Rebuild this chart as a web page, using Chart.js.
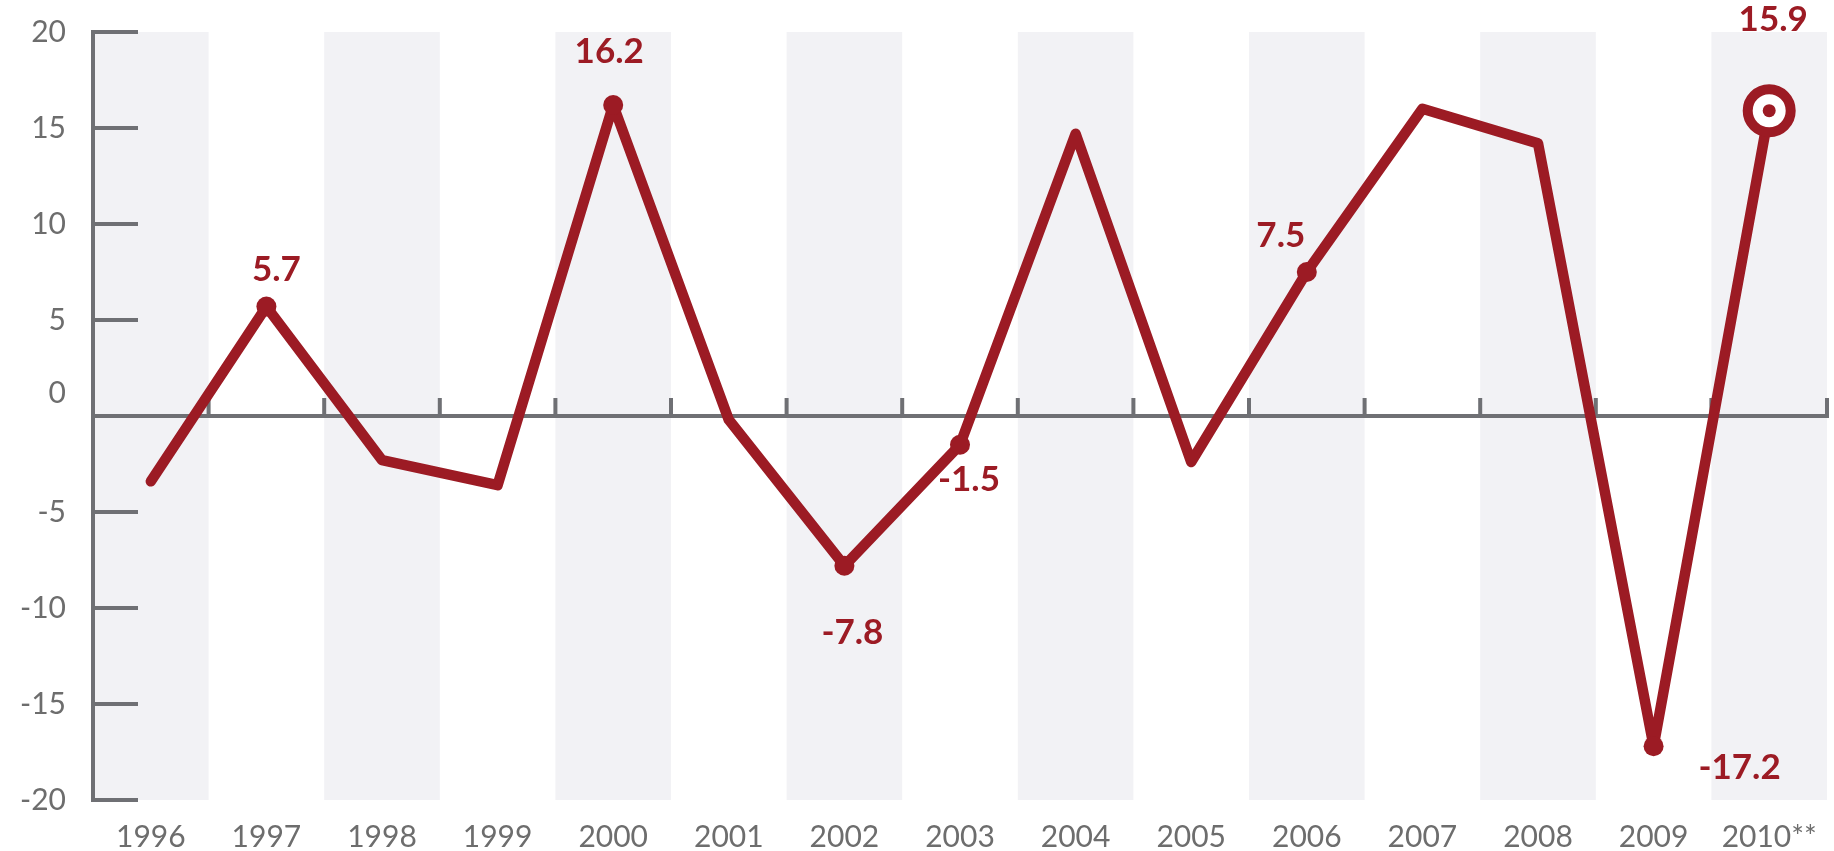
<!DOCTYPE html>
<html lang="en">
<head>
<meta charset="UTF-8" />
<title>Annual growth 1996-2010</title>
<script src="https://cdn.jsdelivr.net/npm/chart.js"></script>
<style>
  html, body { margin: 0; background: #fff; overflow: hidden; }
  #wrap { width: 1834px; height: 851px; }
  canvas { display: block; }
</style>
</head>
<body>
<div id="wrap"><canvas id="growthChart" width="1834" height="851"></canvas></div>
<script>
  const years = ['1996', '1997', '1998', '1999', '2000', '2001', '2002', '2003',
                 '2004', '2005', '2006', '2007', '2008', '2009', '2010**'];
  const growth = [-3.4, 5.7, -2.3, -3.6, 16.2, -0.2, -7.8, -1.5,
                  14.7, -2.4, 7.5, 16.0, 14.2, -17.2, 15.9];
  const yTicks = [20, 15, 10, 5, 0, -5, -10, -15, -20];
  const labelledYears = ['1997', '2000', '2002', '2003', '2006', '2009', '2010**'];
  const forecastYear = '2010**';

  // where each value label sits relative to its point (px)
  const labelShift = {
    '1997': [10, -37], '2000': [-4, -53], '2002': [8, 67], '2003': [9, 35],
    '2006': [-26, -36], '2009': [86, 21], '2010**': [4, -91]
  };

  const RED = '#9c1b24';
  const AXIS = '#6f7074';
  const BAND = '#f2f2f5';
  const TEXT = '#6d6d6d';

  const isForecast = yr => yr === forecastYear;
  const isLabelled = yr => labelledYears.includes(yr);

  const frame = {
    id: 'frame',
    beforeDatasetsDraw(chart) {
      const { ctx, chartArea: a, scales: { x, y } } = chart;
      const half = (x.getPixelForValue(1) - x.getPixelForValue(0)) / 2;
      const y0 = y.getPixelForValue(0);
      ctx.save();

      // shaded columns on every other year
      ctx.fillStyle = BAND;
      years.forEach((yr, i) => {
        if (i % 2 === 0) ctx.fillRect(x.getPixelForValue(i) - half, a.top, half * 2, a.bottom - a.top);
      });

      ctx.strokeStyle = AXIS;
      ctx.lineWidth = 4;
      ctx.beginPath();
      ctx.moveTo(a.left, a.top - 2);
      ctx.lineTo(a.left, a.bottom + 2);
      yTicks.forEach(v => {
        if (v === 0) return;
        const py = y.getPixelForValue(v);
        ctx.moveTo(a.left, py);
        ctx.lineTo(a.left + 45, py);
      });
      ctx.moveTo(a.left, y0);
      ctx.lineTo(a.right, y0);
      years.forEach((yr, i) => {
        const px = x.getPixelForValue(i) + half;
        ctx.moveTo(px, y0 + 2);
        ctx.lineTo(px, y0 - 18);
      });
      ctx.stroke();

      ctx.fillStyle = TEXT;
      ctx.font = '30px Lato';
      ctx.textAlign = 'right';
      ctx.textBaseline = 'middle';
      yTicks.forEach(v => {
        const py = y.getPixelForValue(v) - (v === 0 ? 23 : 0);
        ctx.fillText(String(v), a.left - 27, py);
      });

      ctx.textAlign = 'center';
      ctx.textBaseline = 'alphabetic';
      years.forEach((yr, i) => ctx.fillText(yr, x.getPixelForValue(i), a.bottom + 47));
      ctx.restore();
    },
    afterDatasetsDraw(chart) {
      const { ctx } = chart;
      const pts = chart.getDatasetMeta(0).data;
      ctx.save();
      ctx.fillStyle = RED;
      ctx.font = 'bold 35px Lato';
      ctx.textAlign = 'center';
      ctx.textBaseline = 'middle';
      years.forEach((yr, i) => {
        if (!isLabelled(yr)) return;
        const [dx, dy] = labelShift[yr];
        ctx.fillText(growth[i].toFixed(1), pts[i].x + dx, pts[i].y + dy);
      });
      ctx.restore();
    }
  };

  new Chart(document.getElementById('growthChart'), {
    type: 'line',
    data: {
      labels: years,
      datasets: [{
        data: growth,
        order: 1,
        borderColor: RED,
        borderWidth: 10.5,
        borderCapStyle: 'round',
        borderJoinStyle: 'round',
        tension: 0,
        pointRadius: years.map(yr => isForecast(yr) ? 21.5 : isLabelled(yr) ? 10 : 0),
        pointBackgroundColor: years.map(yr => isForecast(yr) ? '#ffffff' : RED),
        pointBorderColor: RED,
        pointBorderWidth: years.map(yr => isForecast(yr) ? 10 : 0)
      }, {
        // centre of the forecast marker
        data: years.map((yr, i) => isForecast(yr) ? growth[i] : null),
        order: 0,
        showLine: false,
        pointRadius: 6.5,
        pointBackgroundColor: RED,
        pointBorderWidth: 0
      }]
    },
    options: {
      responsive: false,
      devicePixelRatio: 1,
      animation: false,
      layout: { autoPadding: false, padding: { left: 93, right: 7, top: 32, bottom: 51 } },
      plugins: { legend: { display: false }, tooltip: { enabled: false } },
      scales: {
        x: { type: 'category', offset: true, display: false },
        y: { min: -20, max: 20, display: false }
      }
    },
    plugins: [frame]
  });
</script>
</body>
</html>
